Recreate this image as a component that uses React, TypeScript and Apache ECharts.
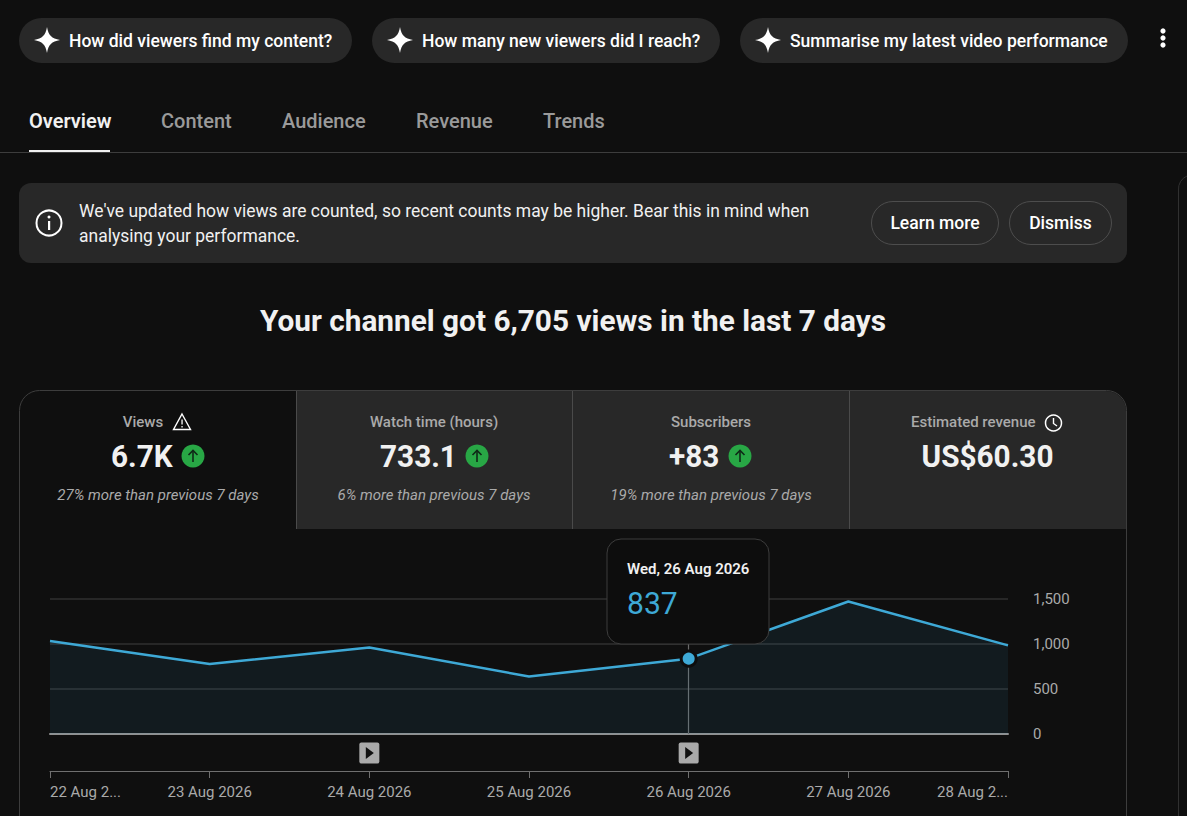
import React, { useEffect, useRef } from "react";
import * as echarts from "echarts";

const dates = ["22 Aug 2026", "23 Aug 2026", "24 Aug 2026", "25 Aug 2026", "26 Aug 2026", "27 Aug 2026", "28 Aug 2026"];
const tickLabels = ["22 Aug 2...", "23 Aug 2026", "24 Aug 2026", "25 Aug 2026", "26 Aug 2026", "27 Aug 2026", "28 Aug 2..."];
const views = [1033, 778, 961, 639, 837, 1472, 985];
const hoverIndex = 4;
const videoMarkerDates = ["24 Aug 2026", "26 Aug 2026"];
const pillTexts = ["How did viewers find my content?", "How many new viewers did I reach?", "Summarise my latest video performance"];
const tabs = ["Overview", "Content", "Audience", "Revenue", "Trends"];
const metricNames = ["Views", "Watch time (hours)", "Subscribers", "Estimated revenue"];
const metricValues = ["6.7K", "733.1", "+83", "US$60.30"];
const metricNotes = ["27% more than previous 7 days", "6% more than previous 7 days", "19% more than previous 7 days"];

const BG = "#0f0f0f";
const PANEL = "#282828";
const BLUE = "#3ea9d6";
const FONT = "Roboto";

echarts.graphic.registerShape("sparkle", echarts.graphic.extendPath("M0 -13 C1.6 -4.5 4.5 -1.6 13 0 C4.5 1.6 1.6 4.5 0 13 C-1.6 4.5 -4.5 1.6 -13 0 C-4.5 -1.6 -1.6 -4.5 0 -13Z", {}));
echarts.graphic.registerShape("cardEdge", echarts.graphic.extendPath("M19.5 816 V410.5 A20 20 0 0 1 39.5 390.5 H1106.5 A20 20 0 0 1 1126.5 410.5 V816", {}));
echarts.graphic.registerShape("sideEdge", echarts.graphic.extendPath("M1178.5 816 V190 A14 14 0 0 1 1187 176", {}));

function txt(x: number, y: number, text: string, size: number, color: string, weight: number | string = 400, align = "left", fontStyle = "normal", scaleX = 1) {
  return { type: "text", x, y, scaleX, z: 20, style: { text, fontFamily: FONT, fontSize: size, fontWeight: weight, fill: color, align, verticalAlign: "middle", fontStyle } };
}
function pill(x: number, w: number, label: string, textX: number) {
  return [
    { type: "rect", z: 10, shape: { x, y: 18, width: w, height: 45, r: 22.5 }, style: { fill: PANEL } },
    { type: "sparkle", z: 20, x: x + 28, y: 40, style: { fill: "#fff" } },
    txt(textX, 41, label, 18, "#fff", 500, "left", "normal", 0.974),
  ];
}
function upArrow(cx: number, cy: number) {
  return [
    { type: "circle", z: 20, shape: { cx, cy, r: 11.5 }, style: { fill: "#28a745" } },
    { type: "line", z: 21, shape: { x1: cx, y1: cy - 5.5, x2: cx, y2: cy + 6 }, style: { stroke: "#0f2a17", lineWidth: 1.6 } },
    { type: "polyline", z: 21, shape: { points: [[cx - 4.5, cy - 1], [cx, cy - 5.5], [cx + 4.5, cy - 1]] }, style: { stroke: "#0f2a17", lineWidth: 1.6, fill: "none" } },
  ];
}
function playBadge(x: number, y: number) {
  return [
    { type: "rect", z: 20, shape: { x: x - 10, y: y - 10.5, width: 20, height: 21, r: 2 }, style: { fill: "#aaaaaa" } },
    { type: "polygon", z: 21, shape: { points: [[x - 3.5, y - 6], [x + 4.5, y], [x - 3.5, y + 6]] }, style: { fill: "#111" } },
  ];
}

function buildGraphics() {
  const els: any[] = [
    ...pill(19, 333, pillTexts[0], 69),
    ...pill(372, 348, pillTexts[1], 422),
    ...pill(740, 388, pillTexts[2], 790),
    { type: "circle", z: 20, shape: { cx: 1163, cy: 31, r: 2.6 }, style: { fill: "#fff" } },
    { type: "circle", z: 20, shape: { cx: 1163, cy: 38, r: 2.6 }, style: { fill: "#fff" } },
    { type: "circle", z: 20, shape: { cx: 1163, cy: 45, r: 2.6 }, style: { fill: "#fff" } },
    txt(29, 121, tabs[0], 20, "#f1f1f1", 600),
    txt(161, 121, tabs[1], 20, "#9a9a9a", 500),
    txt(282, 121, tabs[2], 20, "#9a9a9a", 500),
    txt(416, 121, tabs[3], 20, "#9a9a9a", 500),
    txt(543, 121, tabs[4], 20, "#9a9a9a", 500),
    { type: "rect", z: 10, shape: { x: 0, y: 152, width: 1187, height: 1 }, style: { fill: "#3d3d3d" } },
    { type: "rect", z: 11, shape: { x: 29, y: 150, width: 81, height: 2 }, style: { fill: "#f1f1f1" } },

    { type: "rect", z: 10, shape: { x: 19, y: 183, width: 1108, height: 80, r: 12 }, style: { fill: PANEL } },
    { type: "circle", z: 20, shape: { cx: 49, cy: 223, r: 12.5 }, style: { fill: "none", stroke: "#fff", lineWidth: 2 } },
    { type: "circle", z: 20, shape: { cx: 49, cy: 217, r: 1.5 }, style: { fill: "#fff" } },
    { type: "rect", z: 20, shape: { x: 48, y: 221, width: 2.2, height: 9 }, style: { fill: "#fff" } },
    txt(79, 211, "We've updated how views are counted, so recent counts may be higher. Bear this in mind when", 18, "#f1f1f1", 400, "left", "normal", 0.972),
    txt(79, 236, "analysing your performance.", 18, "#f1f1f1", 400, "left", "normal", 0.972),
    { type: "rect", z: 15, shape: { x: 871.5, y: 201.5, width: 127, height: 43, r: 21.5 }, style: { fill: "none", stroke: "#4d4d4d" } },
    txt(935, 223, "Learn more", 18, "#fff", 500, "center", "normal", 0.974),
    { type: "rect", z: 15, shape: { x: 1009.5, y: 201.5, width: 102, height: 43, r: 21.5 }, style: { fill: "none", stroke: "#4d4d4d" } },
    txt(1060.5, 223, "Dismiss", 18, "#fff", 500, "center", "normal", 0.974),
    { type: "sideEdge", z: 10, style: { fill: "none", stroke: "#303030" } },

    txt(573, 320, "Your channel got 6,705 views in the last 7 days", 30, "#f1f1f1", 700, "center", "normal", 0.993),

    { type: "rect", z: 10, shape: { x: 297, y: 391, width: 829, height: 138, r: [0, 20, 0, 0] }, style: { fill: PANEL } },
    { type: "cardEdge", z: 12, style: { fill: "none", stroke: "#3d3d3d" } },
    { type: "rect", z: 12, shape: { x: 296, y: 391, width: 1, height: 138 }, style: { fill: "#4a4a4a" } },
    { type: "rect", z: 12, shape: { x: 572, y: 391, width: 1, height: 138 }, style: { fill: "#4a4a4a" } },
    { type: "rect", z: 12, shape: { x: 849, y: 391, width: 1, height: 138 }, style: { fill: "#4a4a4a" } },

    txt(143, 422, metricNames[0], 15, "#aaaaaa", 500, "center"),
    { type: "polygon", z: 20, shape: { points: [[182, 414], [190.5, 429.5], [173.5, 429.5]] }, style: { fill: "none", stroke: "#fff", lineWidth: 1.4 } },
    { type: "rect", z: 20, shape: { x: 181.4, y: 419.5, width: 1.3, height: 5 }, style: { fill: "#fff" } },
    { type: "rect", z: 20, shape: { x: 181.4, y: 426, width: 1.3, height: 1.4 }, style: { fill: "#fff" } },
    txt(111, 456, metricValues[0], 32, "#f1f1f1", 700, "left", "normal", 0.93),
    ...upArrow(193, 456),
    txt(158, 495, metricNotes[0], 15, "#aaaaaa", 400, "center", "italic"),

    txt(434, 422, metricNames[1], 15, "#aaaaaa", 500, "center"),
    txt(380, 456, metricValues[1], 32, "#f1f1f1", 700, "left", "normal", 0.93),
    ...upArrow(477, 456),
    txt(434, 495, metricNotes[1], 15, "#aaaaaa", 400, "center", "italic"),

    txt(711, 422, metricNames[2], 15, "#aaaaaa", 500, "center"),
    txt(669, 456, metricValues[2], 32, "#f1f1f1", 700, "left", "normal", 0.93),
    ...upArrow(740, 456),
    txt(711, 495, metricNotes[2], 15, "#aaaaaa", 400, "center", "italic"),

    txt(911, 422, metricNames[3], 15, "#aaaaaa", 500),
    { type: "circle", z: 20, shape: { cx: 1053.5, cy: 423, r: 8 }, style: { fill: "none", stroke: "#fff", lineWidth: 1.5 } },
    { type: "polyline", z: 20, shape: { points: [[1053.5, 418], [1053.5, 423.5], [1057, 426]] }, style: { fill: "none", stroke: "#fff", lineWidth: 1.4 } },
    txt(987.5, 456, metricValues[3], 32, "#f1f1f1", 700, "center", "normal", 0.93),

    { type: "rect", z: 30, shape: { x: 607, y: 539, width: 162, height: 105, r: 14 }, style: { fill: "#0d0d0d", stroke: "#3d3d3d" } },
    { ...txt(627, 569, `Wed, ${dates[hoverIndex]}`, 15, "#f1f1f1", 600), z: 31 },
    { ...txt(627, 603, views[hoverIndex].toString(), 32, BLUE, 400, "left", "normal", 0.94), z: 31 },
  ];
  const step = 958 / (dates.length - 1);
  videoMarkerDates.forEach((d) => els.push(...playBadge(50 + step * dates.indexOf(d), 753)));
  return els;
}

export default function App() {
  const ref = useRef<HTMLDivElement>(null);
  useEffect(() => {
    const chart = echarts.init(ref.current!, undefined, { renderer: "svg" });
    chart.setOption({
      animation: false,
      backgroundColor: BG,
      textStyle: { fontFamily: FONT },
      grid: { left: 50, top: 599, width: 958, height: 135, containLabel: false },
      xAxis: [
        {
          type: "category", data: dates, boundaryGap: false, position: "bottom",
          axisLine: { lineStyle: { color: "#909090", width: 2 } },
          axisTick: { show: false }, axisLabel: { show: false }, splitLine: { show: false },
        },
        {
          type: "category", data: tickLabels, boundaryGap: false, position: "bottom", offset: 37,
          axisLine: { lineStyle: { color: "#6f6f6f", width: 1 } },
          axisTick: { show: true, length: 7, lineStyle: { color: "#6f6f6f" } },
          axisLabel: {
            show: true, interval: 0, margin: 13, fontSize: 15, color: "#aaaaaa", fontFamily: FONT,
            alignMinLabel: "left", alignMaxLabel: "right", hideOverlap: false,
          },
          splitLine: { show: false },
        },
      ],
      yAxis: {
        type: "value", position: "right", min: 0, max: 1500, interval: 500,
        axisLine: { show: false }, axisTick: { show: false },
        axisLabel: { margin: 25, fontSize: 15, color: "#aaaaaa", fontFamily: FONT, formatter: (v: number) => v.toLocaleString("en-US") },
        splitLine: { lineStyle: { color: "#303030", width: 1.5 } },
      },
      series: [
        {
          type: "line", xAxisIndex: 0, symbol: "none", silent: true,
          data: views.map((v, i) => i === hoverIndex
            ? { value: v, symbol: "circle", symbolSize: 15, itemStyle: { color: BLUE, borderColor: "#0d0d0d", borderWidth: 3 } }
            : v),
          lineStyle: { color: BLUE, width: 2.5 },
          areaStyle: { color: "rgba(62,169,214,0.115)" },
          markLine: {
            silent: true, symbol: "none", label: { show: false }, z: 1,
            lineStyle: { color: "#6a6a6a", width: 1.2, type: "solid" },
            data: [[{ coord: [dates[hoverIndex], 0] }, { coord: [dates[hoverIndex], 1500] }]],
          },
        },
      ],
      graphic: { elements: buildGraphics() },
    });
    return () => chart.dispose();
  }, []);
  return <div ref={ref} style={{ position: "fixed", left: 0, top: 0, width: 1187, height: 816 }} />;
}
